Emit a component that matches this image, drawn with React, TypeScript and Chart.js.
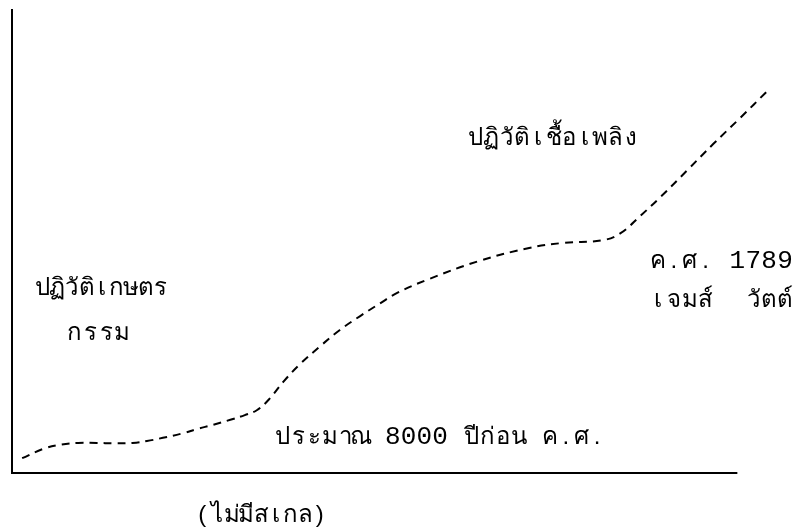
import React, { useEffect, useRef } from "react";
import { Chart, registerables } from "chart.js";

Chart.register(...registerables);

// Curve data (unit-less: "no scale") — x: time progression, y: level
const CURVE_X = [1.4, 4.3, 6.6, 9.1, 11.7, 14.2, 16.6, 18.6, 20.8, 23.6, 25.5, 27.7, 30.1, 32.1, 33.8, 35.6, 37.4, 39.7, 42.5, 45.2, 48.0, 50.8, 53.1, 57.5, 64.4, 71.3, 76.0, 81.5, 83.9, 86.6, 89.4, 93.1, 96.7, 100.4, 104.0];
const CURVE_Y = [3.2, 5.2, 6.1, 6.5, 6.5, 6.4, 6.5, 6.9, 7.6, 8.6, 9.5, 10.4, 11.5, 12.5, 13.6, 16.2, 19.7, 23.5, 27.4, 30.9, 33.9, 36.7, 38.9, 41.9, 45.8, 48.6, 49.7, 50.3, 51.8, 55.5, 59.6, 65.4, 71.1, 76.7, 82.3];

// Visible extent of the horizontal axis line (data units)
const AXIS_X_START = 0;
const AXIS_X_END = 100;

// Annotation texts
const LABEL_TEXTS = [
  "ปฏิวัติเกษตร",
  "กรรม",
  "ปฏิวัติเชื้อเพลิง",
  "ค.ศ. 1789",
  "เจมส์  วัตต์",
  "ประมาณ 8000 ปีก่อน ค.ศ.",
  "(ไม่มีสเกล)",
];

// Layout (pixels on the canvas): left edge, right edge, baseline
const LABEL_LAYOUT = [
  { left: 35, right: 168, base: 295 },
  { left: 67, right: 130, base: 340 },
  { left: 468, right: 639, base: 145 },
  { left: 650, right: 793, base: 268 },
  { left: 650, right: 793, base: 307 },
  { left: 275, right: 605, base: 444 },
  { left: 195, right: 327, base: 522 },
];

const THAI_FONT = '24px sans-serif';
const DIGIT_FONT = '26px "Liberation Mono", monospace';

const axisPlugin = {
  id: "partialXAxis",
  afterDraw(chart: any) {
    const ctx = chart.ctx as CanvasRenderingContext2D;
    const xs = chart.scales.x;
    const y0 = chart.chartArea.bottom;
    ctx.save();
    ctx.strokeStyle = "#000";
    ctx.lineWidth = 2;
    ctx.beginPath();
    ctx.moveTo(xs.getPixelForValue(AXIS_X_START) - 1, y0);
    ctx.lineTo(xs.getPixelForValue(AXIS_X_END), y0);
    ctx.stroke();
    ctx.restore();
  },
};

const labelPlugin = {
  id: "typewriterLabels",
  afterDraw(chart: any) {
    const ctx = chart.ctx as CanvasRenderingContext2D;
    const seg = new (Intl as any).Segmenter("th", { granularity: "grapheme" });
    ctx.save();
    ctx.fillStyle = "#000";
    ctx.textBaseline = "alphabetic";
    ctx.textAlign = "center";
    LABEL_TEXTS.forEach((text, i) => {
      const lay = LABEL_LAYOUT[i];
      const clusters: string[] = Array.from(seg.segment(text), (s: any) => s.segment);
      const pitch = (lay.right - lay.left) / clusters.length;
      clusters.forEach((c, j) => {
        if (c === " ") return;
        ctx.font = /[0-9]/.test(c) ? DIGIT_FONT : THAI_FONT;
        ctx.fillText(c, lay.left + pitch * (j + 0.5), lay.base);
      });
    });
    ctx.restore();
  },
};

export default function App() {
  const ref = useRef<HTMLCanvasElement | null>(null);

  useEffect(() => {
    if (!ref.current) return;
    const chart = new Chart(ref.current, {
      type: "scatter",
      data: {
        datasets: [
          {
            data: CURVE_X.map((x, i) => ({ x, y: CURVE_Y[i] })),
            showLine: true,
            borderColor: "#000",
            borderWidth: 2,
            borderDash: [8, 6],
            pointRadius: 0,
            tension: 0.4,
            clip: false,
            fill: false,
          } as any,
        ],
      },
      options: {
        animation: false,
        responsive: false,
        maintainAspectRatio: false,
        layout: { padding: { left: 12, right: 26, top: 10, bottom: 55 } },
        plugins: {
          legend: { display: false },
          tooltip: { enabled: false },
          title: { display: false },
        },
        scales: {
          x: {
            type: "linear",
            min: 0,
            max: 104.5,
            grid: { display: false, drawTicks: false },
            ticks: { display: false },
            border: { display: false },
          },
          y: {
            type: "linear",
            min: 0,
            max: 100,
            grid: { display: false, drawTicks: false },
            ticks: { display: false },
            border: { display: true, color: "#000", width: 2 },
          },
        },
      },
      plugins: [axisPlugin, labelPlugin],
    });
    return () => chart.destroy();
  }, []);

  return (
    <div style={{ position: "fixed", left: 0, top: 0, width: 796, height: 528, background: "#fff" }}>
      <canvas ref={ref} width={796} height={528} style={{ display: "block", width: 796, height: 528 }} />
    </div>
  );
}
